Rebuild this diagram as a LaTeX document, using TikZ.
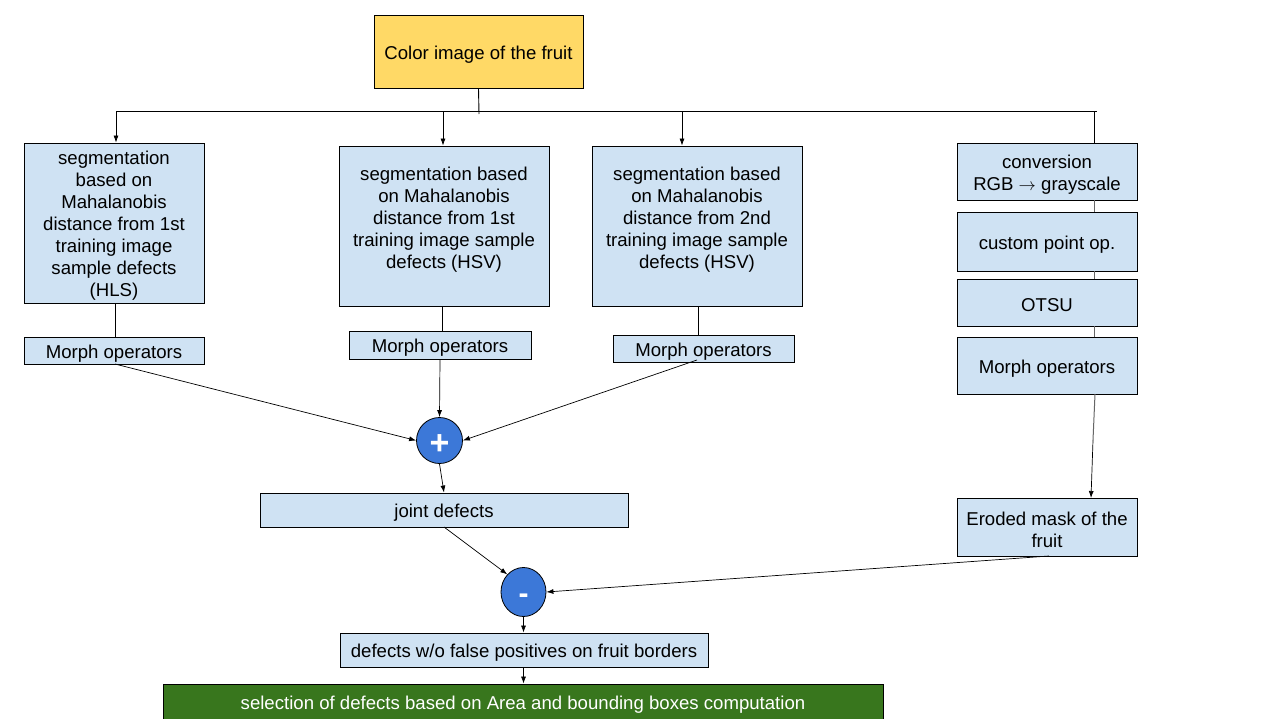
\documentclass[tikz,border=0pt]{standalone}
\usepackage{fontspec}
\setmainfont{Liberation Sans}
\usetikzlibrary{arrows.meta,shapes.geometric}
\definecolor{lblue}{HTML}{CFE2F3}
\definecolor{yel}{HTML}{FFD966}
\definecolor{cblue}{HTML}{3C78D8}
\definecolor{dgreen}{HTML}{38761D}
\tikzset{
  box/.style={draw=black, line width=0.9pt, fill=lblue, inner sep=0pt},
  txt/.style={inner sep=0pt, align=center, font=\fontsize{18.6}{22}\selectfont, text=black, yshift=-3pt},
  arr/.style={-{Latex[length=7pt,width=5pt]}, line width=0.7pt},
  ln/.style={line width=0.9pt},
  gln/.style={line width=1pt, draw=black!60},
  op/.style={draw=black, fill=cblue, line width=0.8pt, inner sep=0pt},
  sign/.style={inner sep=0pt, text=white, font=\bfseries}
}
\begin{document}
\begin{tikzpicture}[x=1pt,y=-1pt]
\useasboundingbox (0,0) rectangle (1274,718);
\fill[white] (0,0) rectangle (1274,718);

% top
\node[box, fill=yel, minimum width=209, minimum height=73,
  label={[txt]center:{Color image of the fruit}}] (img) at (478.5,51.5) {};

% column boxes
\node[box, minimum width=180, minimum height=160,
  label={[txt]center:{segmentation\\based on\\Mahalanobis\\distance from 1st\\training image\\sample defects\\(HLS)}}] (s1) at (114,223) {};
\node[box, minimum width=210, minimum height=160] (s2) at (444,226) {};
\node[txt] (s2t) at (444,217) {segmentation based\\on Mahalanobis\\distance from 1st\\training image sample\\defects (HSV)};
\node[box, minimum width=210, minimum height=160] (s3) at (697,226) {};
\node[txt] (s3t) at (697,217) {segmentation based\\on Mahalanobis\\distance from 2nd\\training image sample\\defects (HSV)};

% morph boxes
\node[box, minimum width=180, minimum height=27, label={[txt]center:{Morph operators}}] (m1) at (114,350.5) {};
\node[box, minimum width=182, minimum height=28, label={[txt]center:{Morph operators}}] (m2) at (440,345) {};
\node[box, minimum width=181, minimum height=27, label={[txt]center:{Morph operators}}] (m3) at (703.5,348.5) {};

% right column
\node[box, minimum width=180, minimum height=57, label={[txt]center:{conversion\\RGB \(\rightarrow\) grayscale}}] (c1) at (1047,171.5) {};
\node[box, minimum width=180, minimum height=59, label={[txt]center:{custom point op.}}] (c2) at (1047,241.5) {};
\node[box, minimum width=180, minimum height=47, label={[txt]center:{OTSU}}] (c3) at (1047,302.5) {};
\node[box, minimum width=180, minimum height=57, label={[txt]center:{Morph operators}}] (c4) at (1047,365.5) {};
\node[box, minimum width=180, minimum height=58, label={[txt]center:{Eroded mask of the\\fruit}}] (er) at (1047,527) {};

% operators
\node[op, circle, minimum size=46,
  label={[sign, font=\fontsize{34}{34}\selectfont\bfseries, yshift=-4pt]center:+}] (plus) at (439.5,440.5) {};
\node[op, ellipse, minimum width=45, minimum height=49,
  label={[sign, font=\fontsize{30}{30}\selectfont\bfseries, yshift=-7pt]center:-}] (minus) at (523.5,592) {};

% bottom
\node[box, minimum width=368, minimum height=34, label={[txt]center:{joint defects}}] (jd) at (444,510) {};
\node[box, minimum width=368, minimum height=34, label={[txt]center:{defects w/o false positives on fruit borders}}] (dw) at (524,650) {};
\node[box, fill=dgreen, minimum width=720, minimum height=36,
  label={[txt, text=white]center:{selection of defects based on Area and bounding boxes computation}}] (sel) at (523,702) {};

% distribution bus
\coordinate (bl) at (116,111);
\coordinate (br) at (1097,111);
\coordinate (bm) at (479,114);
\draw[ln] (img.south) -- (bm);
\draw[ln] (bl) -- (br);
\draw[arr] (bl) -- (s1.north -| bl);
\coordinate (b2) at (443,111);
\draw[arr] (b2) -- (s2.north -| b2);
\coordinate (b3) at (682,111);
\draw[arr] (b3) -- (s3.north -| b3);
\coordinate (b4) at (1094,111);
\draw[ln] (b4) -- (c1.north -| b4);

% right chain
\draw[gln] (c1.south -| b4) -- (c2.north -| b4);
\draw[gln] (c2.south -| b4) -- (c3.north -| b4);
\draw[gln] (c3.south -| b4) -- (c4.north -| b4);
\coordinate (c4b) at (1095,394);
\coordinate (ert) at (1091,498);
\coordinate (cmid) at (1093,440);
\draw[gln] (c4b) -- (cmid);
\draw[arr] (cmid) -- (ert);

% column links
\coordinate (x1) at (115,0);
\coordinate (x2) at (442,0);
\coordinate (x3) at (698,0);
\draw[ln] (s1.south -| x1) -- (m1.north -| x1);
\draw[ln] (s2.south -| x2) -- (m2.north -| x2);
\draw[ln] (s3.south -| x3) -- (m3.north -| x3);

% into plus
\coordinate (m1o) at (115,364);
\coordinate (m3o) at (697,360);
\coordinate (x4) at (444,0);
\draw[arr] (m1o) -- (plus.west);
\draw[arr] (m2.south) -- (plus.north);
\draw[arr] (m3o) -- (plus.east);
\draw[arr] (plus.south) -- (jd.north -| x4);

% into minus
\coordinate (jdo) at (444,527);
\coordinate (ero) at (1049,556);
\draw[arr] (jdo) -- (minus.north west);
\draw[arr] (ero) -- (minus.east);
\draw[arr] (minus.south) -- (dw.north -| minus.south);
\draw[arr] (dw.south -| minus.south) -- (sel.north -| minus.south);
\end{tikzpicture}
\end{document}
